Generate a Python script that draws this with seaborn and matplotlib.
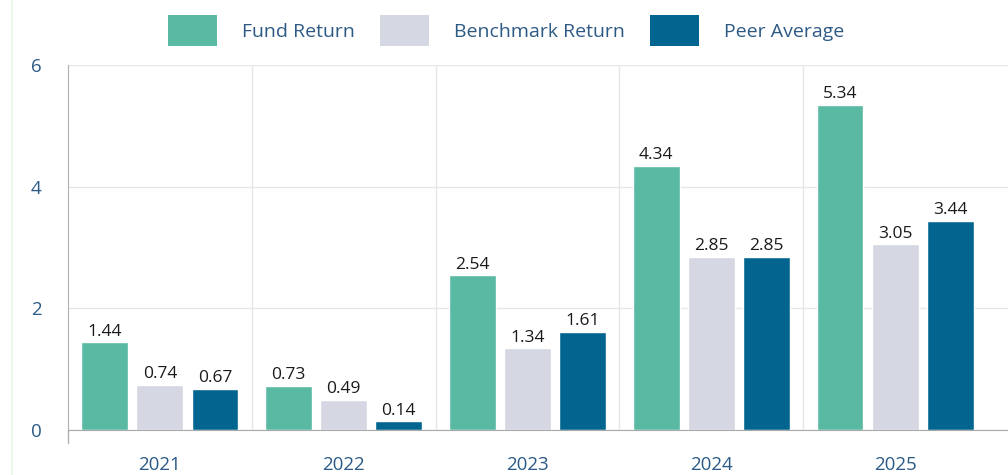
import pandas as pd
import seaborn as sns
import matplotlib.pyplot as plt
from matplotlib.lines import Line2D

years = ['2021', '2022', '2023', '2024', '2025']
fund_return = [1.44, 0.73, 2.54, 4.34, 5.34]
benchmark_return = [0.74, 0.49, 1.34, 2.85, 3.05]
peer_average = [0.67, 0.14, 1.61, 2.85, 3.44]

series = ['Fund Return', 'Benchmark Return', 'Peer Average']
colors = ['#5ab9a3', '#d5d7e3', '#02658f']

df = pd.DataFrame({
    'year': years * 3,
    'value': fund_return + benchmark_return + peer_average,
    'series': [s for s in series for _ in years],
})

sns.set_style('white')
plt.rcParams['font.family'] = ['Open Sans', 'DejaVu Sans']

fig = plt.figure(figsize=(10.08, 4.75), dpi=100)
# plot area: left edge at x=68px, category boundaries every ~184px, runs past right edge
px_unit = 183.8
left_px, right_px = 68, 1030
ax = fig.add_axes([left_px / 1008, 45 / 475, (right_px - left_px) / 1008, 365 / 475])

sns.barplot(data=df, x='year', y='value', hue='series', palette=colors,
            width=0.9, gap=0.15, saturation=1, ax=ax, legend=False)

for c in ax.containers:
    ax.bar_label(c, fmt='%.2f', padding=2, fontsize=12.5, color='#1a1a1a')

ax.set_xlim(-0.5, -0.5 + (right_px - left_px) / px_unit)
ax.set_ylim(0, 6)
ax.set_yticks([0, 2, 4, 6])
ax.set_xlabel('')
ax.set_ylabel('')

ax.set_xticks([0.5, 1.5, 2.5, 3.5], minor=True)
ax.grid(True, axis='y', color='#e6e6e6', linewidth=1)
ax.grid(True, axis='x', which='minor', color='#e6e6e6', linewidth=1)
ax.set_axisbelow(True)

ax.tick_params(axis='x', which='major', length=0, pad=19, labelsize=13.5, labelcolor='#2b5a86')
ax.tick_params(axis='x', which='minor', length=13, color='#dddddd', width=1)
ax.tick_params(axis='y', length=15, color='#dddddd', width=1, pad=4, labelsize=13.5, labelcolor='#2b5a86')

for s in ['top', 'right']:
    ax.spines[s].set_visible(False)
ax.spines['left'].set_color('#b0b0b0')
ax.spines['bottom'].set_color('#a8a8a8')
ax.spines['left'].set_bounds(0, 6)

# left spine continues below zero like the boundary ticks
ax.plot([-0.5, -0.5], [0, -13 / 60.8], color='#b0b0b0', lw=1, clip_on=False)

handles = [plt.Rectangle((0, 0), 1, 1, facecolor=c, edgecolor='none') for c in colors]
fig.legend(handles, series, loc='upper center', bbox_to_anchor=(0.502, 1.005), ncol=3,
           frameon=False, fontsize=14, handlelength=2.5, handleheight=2.1,
           handletextpad=1.3, columnspacing=1.3, labelcolor='#2d5a85')

fig.add_artist(Line2D([12 / 1008, 12 / 1008], [0, 1], color='#eef7ea', lw=1.5))

fig.savefig('out.png', dpi=100)
